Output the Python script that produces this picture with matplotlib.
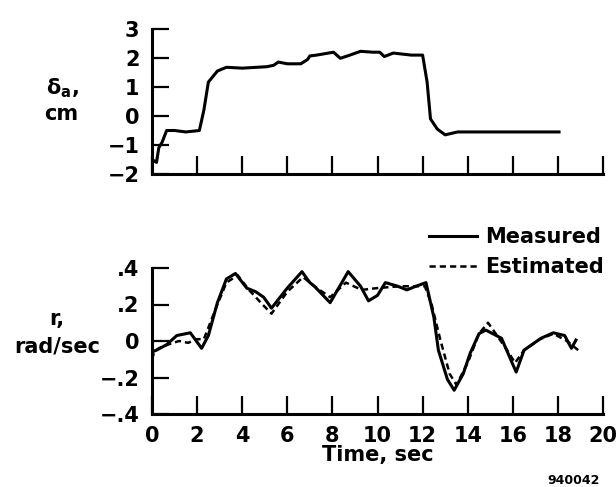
import matplotlib
matplotlib.use("Agg")
import matplotlib.pyplot as plt

# ---------------- data ----------------
t_delta = [0.1, 0.2, 0.3, 0.45, 0.65, 1.0, 1.5, 2.1, 2.3, 2.5, 2.9, 3.3, 4.0, 5.1, 5.4,
           5.6, 6.0, 6.6, 6.9, 7.0, 7.3, 8.05, 8.35, 8.7, 9.25, 9.8, 10.1, 10.3, 10.7,
           11.5, 12.0, 12.2, 12.35, 12.65, 13.0, 13.55, 14.5, 15.5, 18.05]
delta_a = [-1.55, -1.6, -1.1, -0.9, -0.5, -0.5, -0.55, -0.5, 0.2, 1.17, 1.55, 1.68, 1.65,
           1.7, 1.75, 1.86, 1.8, 1.8, 1.95, 2.07, 2.1, 2.2, 1.99, 2.08, 2.23, 2.2, 2.2,
           2.05, 2.17, 2.1, 2.1, 1.17, -0.1, -0.45, -0.65, -0.55, -0.55, -0.55, -0.55]

t_meas = [0, 0.2, 0.65, 1.1, 1.7, 2.2, 2.5, 2.9, 3.3, 3.7, 4.2, 4.6, 4.95, 5.3, 6.0,
          6.65, 7.0, 7.2, 7.9, 8.7, 9.25, 9.6, 10.0, 10.35, 10.9, 11.3, 11.7, 12.15,
          12.5, 12.7, 13.1, 13.4, 13.8, 14.1, 14.5, 14.8, 15.5, 15.9, 16.15, 16.5,
          17.25, 17.8, 18.3, 18.6, 18.8]
r_meas = [-0.06, -0.05, -0.02, 0.03, 0.045, -0.04, 0.03, 0.21, 0.34, 0.37, 0.29, 0.27,
          0.24, 0.18, 0.29, 0.38, 0.32, 0.30, 0.21, 0.38, 0.30, 0.22, 0.25, 0.32, 0.30,
          0.28, 0.30, 0.32, 0.13, -0.05, -0.21, -0.27, -0.18, -0.07, 0.04, 0.06,
          0.015, -0.1, -0.17, -0.05, 0.015, 0.045, 0.03, -0.04, 0.005]

t_est = [0, 0.1, 0.3, 0.7, 1.2, 1.6, 2.0, 2.3, 2.9, 3.3, 3.8, 4.3, 4.9, 5.3, 6.0, 6.7,
         7.2, 7.9, 8.6, 9.3, 10.0, 11.0, 12.1, 12.4, 12.8, 13.2, 13.5, 14.0, 14.5, 14.9,
         15.3, 15.8, 16.1, 16.5, 17.2, 17.8, 18.4, 19.0]
r_est = [-0.1, -0.06, -0.04, -0.02, 0.0, -0.01, 0.01, 0.01, 0.2, 0.32, 0.36, 0.28, 0.2,
         0.15, 0.27, 0.35, 0.30, 0.24, 0.32, 0.28, 0.29, 0.3, 0.3, 0.2, 0.0, -0.18,
         -0.24, -0.12, 0.04, 0.1, 0.03, -0.06, -0.12, -0.05, 0.01, 0.04, 0.0, -0.06]

x_ticks = [0, 2, 4, 6, 8, 10, 12, 14, 16, 18, 20]
x_ticklabels = ["0", "2", "4", "6", "8", "10", "12", "14", "16", "18", "20"]
top_yticks = [-2, -1, 0, 1, 2, 3]
top_yticklabels = ["\u22122", "\u22121", "0", "1", "2", "3"]
bot_yticks = [-0.4, -0.2, 0, 0.2, 0.4]
bot_yticklabels = ["\u2212.4", "\u2212.2", "0", ".2", ".4"]

# ---------------- figure ----------------
plt.rcParams['font.family'] = ['DejaVu Sans']
plt.rcParams['font.weight'] = 'bold'
W, H = 616, 487
fig = plt.figure(figsize=(W / 100, H / 100), dpi=100)

def fx(px):
    return px / W

def fy(py):
    return 1 - py / H

ax1 = fig.add_axes([fx(152), fy(174), fx(603) - fx(152), fy(29) - fy(174)])
ax2 = fig.add_axes([fx(152), fy(414), fx(603) - fx(152), fy(268) - fy(414)])

FS = 15
for ax in (ax1, ax2):
    ax.set_facecolor('none')
    for s in ('top', 'right'):
        ax.spines[s].set_visible(False)
    for s in ('left', 'bottom'):
        ax.spines[s].set_linewidth(2.2)
        ax.spines[s].set_capstyle('projecting')
    ax.set_xlim(0, 20)
    ax.set_xticks(x_ticks)
    ax.tick_params(axis='x', direction='in', length=13, width=1.6, pad=9,
                   labelsize=FS)
    ax.tick_params(axis='y', direction='in', length=12, width=1.6, pad=9,
                   labelsize=FS)

ax1.plot(t_delta, delta_a, color='black', lw=2.2, solid_joinstyle='round')
ax1.set_ylim(-2, 3)
ax1.set_yticks(top_yticks)
ax1.set_yticklabels(top_yticklabels, fontweight='bold')
ax1.set_xticklabels([])

ax2.plot(t_meas, r_meas, color='black', lw=2.2, label='Measured',
         solid_joinstyle='round')
ax2.plot(t_est, r_est, color='black', lw=1.8, linestyle=(0, (2.5, 1.6)),
         label='Estimated')
ax2.set_ylim(-0.4, 0.4)
ax2.set_yticks(bot_yticks)
ax2.set_yticklabels(bot_yticklabels, fontweight='bold')
ax2.set_xticklabels(x_ticklabels, fontweight='bold')

fig.legend(loc='upper right', bbox_to_anchor=(fx(604), fy(227)), frameon=False,
           fontsize=FS, handlelength=2.3, handletextpad=0.4, labelspacing=0.5,
           borderpad=0, borderaxespad=0, prop={'weight': 'bold', 'size': FS})

# labels
fig.text(fx(62), fy(88), r"$\mathbf{\delta_a}$,", ha='center', va='center',
         fontsize=FS, fontweight='bold')
fig.text(fx(61), fy(114), "cm", ha='center', va='center', fontsize=FS,
         fontweight='bold')
fig.text(fx(57), fy(319), "r,", ha='center', va='center', fontsize=FS,
         fontweight='bold')
fig.text(fx(57), fy(346), "rad/sec", ha='center', va='center', fontsize=FS,
         fontweight='bold')
fig.text(fx(378), fy(455), "Time, sec", ha='center', va='center', fontsize=FS,
         fontweight='bold')
fig.text(fx(574), fy(480), "940042", ha='center', va='center', fontsize=9,
         fontweight='bold')

fig.savefig("out.png", dpi=100)
